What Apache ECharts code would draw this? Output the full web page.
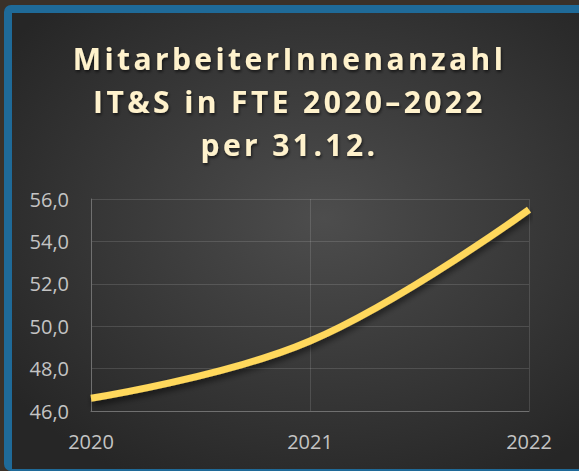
<!DOCTYPE html>
<html><head><meta charset="utf-8">
<script src="https://cdn.jsdelivr.net/npm/echarts@6/dist/echarts.min.js"></script>
<style>
html,body{margin:0;padding:0;background:#3a3129;}
#c{width:579px;height:471px;}
#c svg text[style*="bold"]{letter-spacing:3.4px;}
</style>
</head><body><div id="c"></div>
<script>
const titleText = 'MitarbeiterInnenanzahl\nIT&S in FTE 2020–2022\nper 31.12.';
const categories = ['2020', '2021', '2022'];
const fteValues = [46.6, 49.3, 55.5];
const yMin = 46, yMax = 56, yStep = 2;

const chart = echarts.init(document.getElementById('c'), null, {renderer: 'svg'});
chart.setOption({
  backgroundColor: '#3a3129',
  graphic: [
    {type: 'rect', z: -10, silent: true, shape: {x: 4, y: 5, width: 600, height: 466, r: 7}, style: {fill: '#1f6a98'}},
    {type: 'rect', z: -9, silent: true, shape: {x: 12, y: 13, width: 600, height: 456},
      style: {fill: new echarts.graphic.RadialGradient(0.52, 0.45, 0.65, [
        {offset: 0, color: '#4d4d4d'}, {offset: 1, color: '#262626'}])}}
  ],
  title: {
    text: titleText, left: 'center', top: 32, padding: [5, 5, 5, 9],
    textStyle: {color: '#fff2cc', fontFamily: 'Open Sans', fontWeight: 'bold', fontSize: 30, lineHeight: 43,
      textShadowColor: 'rgba(0,0,0,0.6)', textShadowBlur: 3, textShadowOffsetX: 1, textShadowOffsetY: 2}
  },
  grid: {left: 91, right: 50, top: 199, bottom: 60},
  xAxis: {
    type: 'category', data: categories, boundaryGap: false,
    axisLine: {lineStyle: {color: '#707070', width: 1}},
    axisTick: {show: false},
    axisLabel: {color: '#c4c4c4', fontFamily: 'Open Sans', fontSize: 20, margin: 20},
    splitLine: {show: true, lineStyle: {color: 'rgba(255,255,255,0.13)', width: 1}}
  },
  yAxis: {
    type: 'value', min: yMin, max: yMax, interval: yStep,
    axisLine: {show: true, lineStyle: {color: '#707070', width: 1}},
    axisTick: {show: false},
    axisLabel: {color: '#c4c4c4', fontFamily: 'Open Sans', fontSize: 20, margin: 22,
      formatter: v => v.toFixed(1).replace('.', ',')},
    splitLine: {lineStyle: {color: 'rgba(255,255,255,0.13)', width: 1}}
  },
  series: [{
    type: 'line', data: fteValues, smooth: 0.4, symbol: 'none',
    lineStyle: {color: '#ffd85c', width: 7, cap: 'butt',
      shadowColor: 'rgba(0,0,0,0.55)', shadowBlur: 6, shadowOffsetY: 4, shadowOffsetX: 1}
  }],
  animation: false
});
</script></body></html>
